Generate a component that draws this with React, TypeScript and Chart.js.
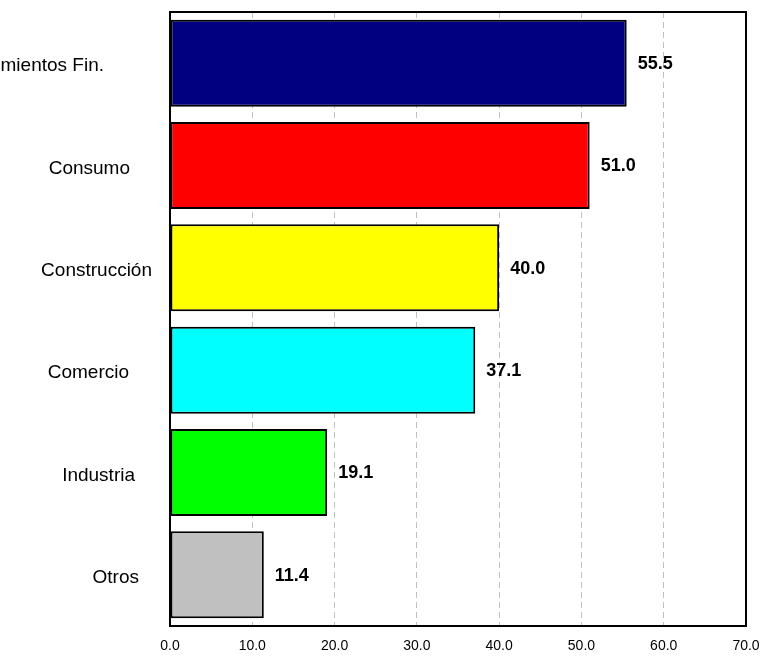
import React, { useEffect, useRef } from "react";
import { Chart, registerables } from "chart.js";

Chart.register(...registerables);

const categories = ["Establecimientos Fin.", "Consumo", "Construcción", "Comercio", "Industria", "Otros"];
const values = [55.5, 51.0, 40.0, 37.1, 19.1, 11.4];
const barColors = ["#000080", "#FF0000", "#FFFF00", "#00FFFF", "#00FF00", "#C0C0C0"];
const xTicks = [0, 10, 20, 30, 40, 50, 60, 70];
// gap between each category label's right edge and the plot's left edge (style)
const labelGaps = [66, 40, 18, 41, 35, 31];

const FONT = "'Liberation Sans', Arial, Helvetica, sans-serif";

export default function App() {
  const ref = useRef<HTMLCanvasElement | null>(null);

  useEffect(() => {
    if (!ref.current) return;
    const overlay = {
      id: "overlay",
      afterDatasetsDraw(chart: any) {
        const ctx = chart.ctx;
        const area = chart.chartArea;
        const yScale = chart.scales.y;
        ctx.save();
        // frame
        ctx.setLineDash([]);
        ctx.strokeStyle = "#000";
        ctx.lineWidth = 2;
        ctx.strokeRect(area.left, area.top, area.right - area.left, area.bottom - area.top);
        // value labels
        const meta = chart.getDatasetMeta(0);
        ctx.fillStyle = "#000";
        ctx.font = `bold 18px ${FONT}`;
        ctx.textAlign = "left";
        ctx.textBaseline = "middle";
        meta.data.forEach((el: any, i: number) => {
          ctx.fillText(values[i].toFixed(1), el.x + 11, el.y + 1);
        });
        // category labels
        ctx.font = `19px ${FONT}`;
        ctx.textAlign = "right";
        categories.forEach((c, i) => {
          const y = yScale.getPixelForValue(i);
          ctx.fillText(c, area.left - labelGaps[i], y + 3);
        });
        ctx.restore();
      },
    };

    const chart = new Chart(ref.current, {
      type: "bar",
      data: {
        labels: categories,
        datasets: [
          {
            data: values,
            backgroundColor: barColors,
            borderColor: "#000",
            borderWidth: 2,
            borderSkipped: false,
            barPercentage: 0.85,
            categoryPercentage: 1,
          },
        ],
      },
      options: {
        indexAxis: "y",
        animation: false,
        responsive: false,
        maintainAspectRatio: false,
        layout: { padding: { left: 0, top: 12, right: 26, bottom: 0 } },
        plugins: { legend: { display: false }, tooltip: { enabled: false } },
        scales: {
          x: {
            min: 0,
            max: 70,
            afterBuildTicks: (scale: any) => {
              scale.ticks = xTicks.map((v) => ({ value: v }));
            },
            afterFit: (scale: any) => {
              scale.height = 35;
            },
            ticks: {
              color: "#000",
              font: { family: FONT, size: 14 },
              padding: 12,
              maxRotation: 0,
              callback: (v: any) => Number(v).toFixed(1),
            },
            grid: {
              drawTicks: false,
              color: (c: any) => (c.tick && (c.tick.value === 0 || c.tick.value === 70) ? "transparent" : "#C0C0C0"),
              lineWidth: 1,
            },
            border: { display: false, dash: [6, 4] },
          },
          y: {
            afterFit: (scale: any) => {
              scale.width = 170;
            },
            ticks: { display: false },
            grid: { display: false, drawTicks: false },
            border: { display: false },
          },
        },
      },
      plugins: [overlay],
    });
    return () => chart.destroy();
  }, []);

  return (
    <div style={{ position: "absolute", left: 0, top: 0, width: 772, height: 661, background: "#fff" }}>
      <canvas ref={ref} width={772} height={661} style={{ display: "block" }} />
    </div>
  );
}
